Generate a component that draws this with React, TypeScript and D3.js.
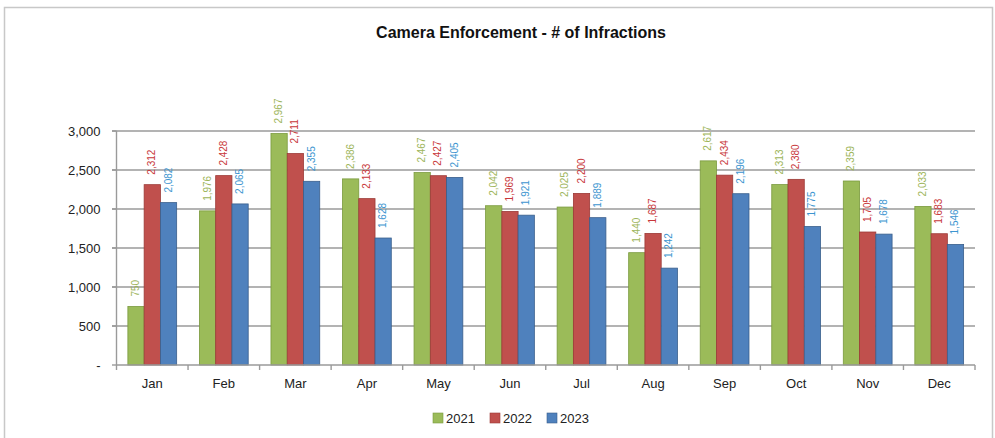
import React from "react";
import * as d3 from "d3";

const months = ["Jan", "Feb", "Mar", "Apr", "May", "Jun", "Jul", "Aug", "Sep", "Oct", "Nov", "Dec"];
const seriesNames = ["2021", "2022", "2023"];
const values2021 = [750, 1976, 2967, 2386, 2467, 2042, 2025, 1440, 2617, 2313, 2359, 2033];
const values2022 = [2312, 2428, 2711, 2133, 2427, 1969, 2200, 1687, 2434, 2380, 1705, 1683];
const values2023 = [2082, 2065, 2355, 1628, 2405, 1921, 1889, 1242, 2196, 1775, 1678, 1546];
const yTicks = [0, 500, 1000, 1500, 2000, 2500, 3000];
const title = "Camera Enforcement - # of Infractions";

const fills = ["#9BBB59", "#C0504D", "#4F81BD"];
const strokes = ["#7A9A3E", "#9C3A37", "#3A5F8C"];
const labelColors = ["#9DB55A", "#C8373A", "#3D95D0"];

const W = 995;
const H = 438;
const left = 116.5;
const right = 975;
const top = 131;
const bottom = 365;
const font = "'Liberation Sans', Arial, sans-serif";

export default function App() {
  const all = [values2021, values2022, values2023];
  const x = d3.scaleBand<string>().domain(months).range([left, right]).paddingInner(0).paddingOuter(0);
  const xs = d3.scaleBand<string>().domain(seriesNames).range([0, x.bandwidth()]).paddingInner(0).paddingOuter(0.7);
  const y = d3.scaleLinear().domain([0, 3000]).range([bottom, top]);
  const fmt = d3.format(",");

  const legendX = [433, 490, 547];

  return (
    <svg width={W} height={H} style={{ position: "absolute", left: 0, top: 0, background: "#fff" }} fontFamily={font}>
      <rect x={0} y={0} width={W} height={H} fill="#fff" />
      <path d={`M4.5,${H} V7.5 H992.5 V${H}`} fill="none" stroke="#c8c8c8" strokeWidth={1.5} />
      <text x={521} y={38} textAnchor="middle" fontSize={16} fontWeight="bold" fill="#111">{title}</text>

      {yTicks.map((t) => (
        <g key={t}>
          {t > 0 && <line x1={left - 4.5} x2={right} y1={y(t)} y2={y(t)} stroke="#9a9a9a" strokeWidth={1.4} />}
          <line x1={left - 4.5} x2={left} y1={y(t)} y2={y(t)} stroke="#9a9a9a" strokeWidth={1.4} />
          <text x={100.5} y={y(t) + 4.5} textAnchor="end" fontSize={13} fill="#222">{t === 0 ? "-" : fmt(t)}</text>
        </g>
      ))}
      <line x1={left} x2={left} y1={top} y2={bottom} stroke="#9a9a9a" strokeWidth={1.4} />

      {months.map((m, i) => (
        <g key={m}>
          {all.map((vals, s) => {
            const bx = (x(m) as number) + (xs(seriesNames[s]) as number);
            const bw = xs.bandwidth();
            const v = vals[i];
            return (
              <g key={s}>
                <rect x={bx} y={y(v)} width={bw} height={bottom - y(v)} fill={fills[s]} stroke={strokes[s]} strokeWidth={0.8} />
                <text
                  transform={`translate(${bx + bw / 2 + 3},${y(v) - 10}) rotate(-90)`}
                  fontSize={10}
                  fill={labelColors[s]}
                >
                  {fmt(v)}
                </text>
              </g>
            );
          })}
          <text x={(x(m) as number) + x.bandwidth() / 2} y={388} textAnchor="middle" fontSize={13} fill="#222">{m}</text>
        </g>
      ))}

      <line x1={left} x2={right} y1={bottom} y2={bottom} stroke="#9a9a9a" strokeWidth={1.4} />
      {months.concat(["end"]).map((m, i) => (
        <line key={"t" + i} x1={left + i * x.step()} x2={left + i * x.step()} y1={bottom} y2={bottom + 5} stroke="#9a9a9a" strokeWidth={1.4} />
      ))}

      {seriesNames.map((n, s) => (
        <g key={n}>
          <rect x={legendX[s]} y={413} width={10} height={10} fill={fills[s]} stroke={strokes[s]} strokeWidth={0.6} />
          <text x={legendX[s] + 13} y={423} fontSize={13} fill="#222">{n}</text>
        </g>
      ))}
    </svg>
  );
}
